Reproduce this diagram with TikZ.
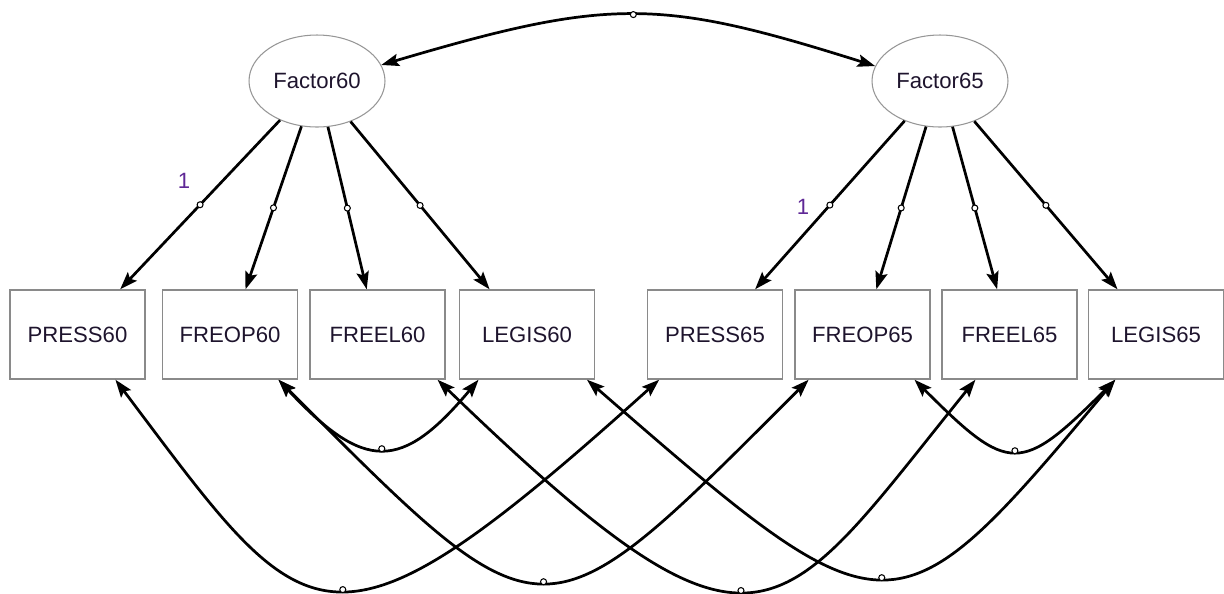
\documentclass[tikz,border=0pt]{standalone}
\usepackage{fontspec}
\setmainfont{Liberation Sans}
\usetikzlibrary{arrows.meta,shapes.geometric}
\definecolor{boxgray}{RGB}{138,138,138}
\definecolor{ellgray}{RGB}{150,150,150}
\definecolor{parcol}{RGB}{95,40,150}
\definecolor{txtcol}{RGB}{30,20,45}
\begin{document}
\begin{tikzpicture}[x=0.02cm,y=-0.02cm,
  txt/.style={font=\fontsize{12.6pt}{15pt}\selectfont, text=txtcol},
  obs/.style={txt, draw=boxgray, line width=0.8pt, rectangle, minimum width=2.7cm, minimum height=1.78cm, inner sep=0pt},
  lat/.style={txt, draw=ellgray, line width=0.6pt, ellipse, minimum width=2.72cm, minimum height=1.84cm, inner sep=0pt},
  conn/.style={line width=1.55pt, -{Stealth[length=10pt,width=7pt,inset=1.8pt]}},
  dconn/.style={line width=1.55pt, {Stealth[length=10pt,width=7pt,inset=1.8pt]}-{Stealth[length=10pt,width=7pt,inset=1.8pt]}},
  dot/.style={circle, draw=black, fill=white, line width=0.6pt, minimum size=0.12cm, inner sep=0pt},
  lab/.style={font=\fontsize{12.6pt}{15pt}\selectfont, text=parcol, inner sep=0pt}
]
\useasboundingbox (0,0) rectangle (1224,593);

% latent variables
\node[lat] (f60) at (317,81) {Factor60};
\node[lat] (f65) at (940,81) {Factor65};

% observed variables
\node[obs] (p60) at (77.5,334.5) {PRESS60};
\node[obs] (o60) at (230,334.5) {FREOP60};
\node[obs] (e60) at (377.5,334.5) {FREEL60};
\node[obs] (l60) at (527,334.5) {LEGIS60};
\node[obs] (p65) at (715,334.5) {PRESS65};
\node[obs] (o65) at (862.5,334.5) {FREOP65};
\node[obs] (e65) at (1009.5,334.5) {FREEL65};
\node[obs] (l65) at (1156,334.5) {LEGIS65};

% factor covariance
\draw[dconn] (f60.14) to[out=16.5, in=162.5, out distance=4.78cm, in distance=4.52cm] node[dot, pos=0.5] (tc) {} (f65.167);

% loadings
\draw[conn] (f60) -- node[dot] (a1) {} (p60);
\draw[conn] (f60) -- node[dot] (a2) {} (o60);
\draw[conn] (f60) -- node[dot] (a3) {} (e60);
\draw[conn] (f60) -- node[dot] (a4) {} (l60);
\draw[conn] (f65) -- node[dot] (b1) {} (p65);
\draw[conn] (f65) -- node[dot] (b2) {} (o65);
\draw[conn] (f65) -- node[dot] (b3) {} (e65);
\draw[conn] (f65) -- node[dot] (b4) {} (l65);

\node[lab] (one60) at (184,181) {1};
\node[lab] (one65) at (803,207) {1};

% error covariances
\draw[dconn] (o60.-43) to[out=-47, in=-130, out distance=2.52cm, in distance=2.4cm] node[dot, pos=0.5] (c1) {} (l60.-137);
\draw[dconn] (o65.-41) to[out=-45, in=-135, out distance=2.68cm, in distance=2.68cm] node[dot, pos=0.5] (c2) {} (l65.-132);
\draw[dconn] (p60.-50) to[out=-53, in=-138, out distance=6.44cm, in distance=9.02cm] node[dot, pos=0.52] (c3) {} (p65.-141);
\draw[dconn] (o60.-43) to[out=-45, in=-135, out distance=7.62cm, in distance=7.62cm] node[dot, pos=0.5] (c4) {} (o65.-140);
\draw[dconn] (e60.-37) to[out=-44, in=-129, out distance=9.04cm, in distance=6.34cm] node[dot, pos=0.47] (c5) {} (e65.-127);
\draw[dconn] (l60.-37) to[out=-41, in=-130, out distance=8.04cm, in distance=6.9cm] node[dot, pos=0.5] (c6) {} (l65.-132);
\end{tikzpicture}
\end{document}
